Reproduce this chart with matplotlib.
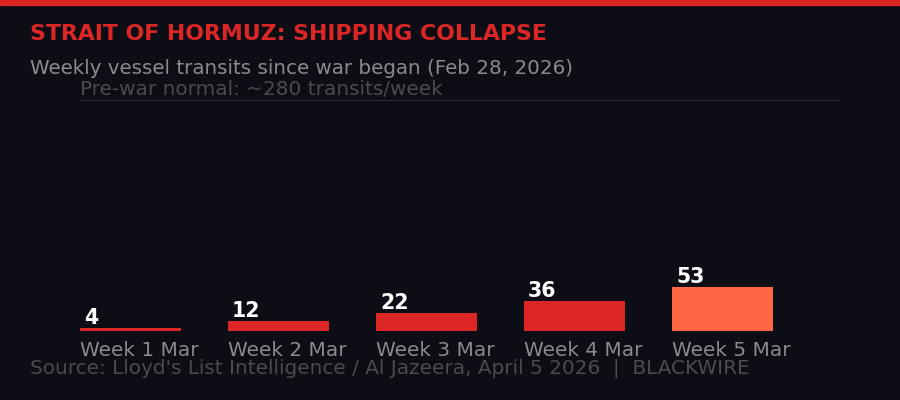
import matplotlib
matplotlib.use("Agg")
import matplotlib.pyplot as plt
import numpy as np

categories = ["Week 1 Mar", "Week 2 Mar", "Week 3 Mar", "Week 4 Mar", "Week 5 Mar"]
transits = [4, 12, 22, 36, 53]
prewar_normal = 280
bar_colors = ["#dc2626", "#dc2626", "#dc2626", "#dc2626", "#ff6644"]

BG = "#0d0e15"
fig = plt.figure(figsize=(9, 4), dpi=100, facecolor=BG)
W, H = 900, 400

# axes spans px x 80..840, y 100..331
ax = fig.add_axes([80 / W, (H - 331) / H, 760 / W, 231 / H])
ax.set_facecolor(BG)
x = np.arange(len(categories))
ax.bar(x, transits, width=101 / 148, align="edge", color=bar_colors, zorder=2)
ax.set_xlim(0, 760 / 148)
ax.set_ylim(0, prewar_normal)
ax.axhline(prewar_normal, color="#33343c", lw=1.2, zorder=1)
for s in ax.spines.values():
    s.set_visible(False)
ax.set_xticks([])
ax.set_yticks([])

for i, (v, c) in enumerate(zip(transits, categories)):
    ax.annotate(str(v), (x[i], v), xytext=(4, 4), textcoords="offset pixels",
                ha="left", va="baseline", color="white", fontsize=14.8, fontweight="bold")
    ax.annotate(c, (x[i], 0), xytext=(0, -10), textcoords="offset pixels",
                ha="left", va="top", color="#8a8a90", fontsize=14.4)

ax.annotate("Pre-war normal: ~280 transits/week", (0, prewar_normal), xytext=(0, 1),
            textcoords="offset pixels", ha="left", va="bottom", color="#4a4a50", fontsize=14.4)

# top red strip
fig.patches.append(plt.Rectangle((0, 1 - 5 / H), 1, 5 / H, transform=fig.transFigure,
                                 color="#dc2626", zorder=5))

fig.text(30 / W, 1 - 34 / H, "STRAIT OF HORMUZ: SHIPPING COLLAPSE", color="#dc2626",
         fontsize=15.8, fontweight="bold", ha="left", va="center")
fig.text(30 / W, 1 - 68 / H, "Weekly vessel transits since war began (Feb 28, 2026)",
         color="#8a8a90", fontsize=14.3, ha="left", va="center")
fig.text(30 / W, 1 - 368 / H,
         "Source: Lloyd's List Intelligence / Al Jazeera, April 5 2026  |  BLACKWIRE",
         color="#4a4a50", fontsize=14.4, ha="left", va="center")

fig.savefig("out.png", dpi=100, facecolor=BG)
